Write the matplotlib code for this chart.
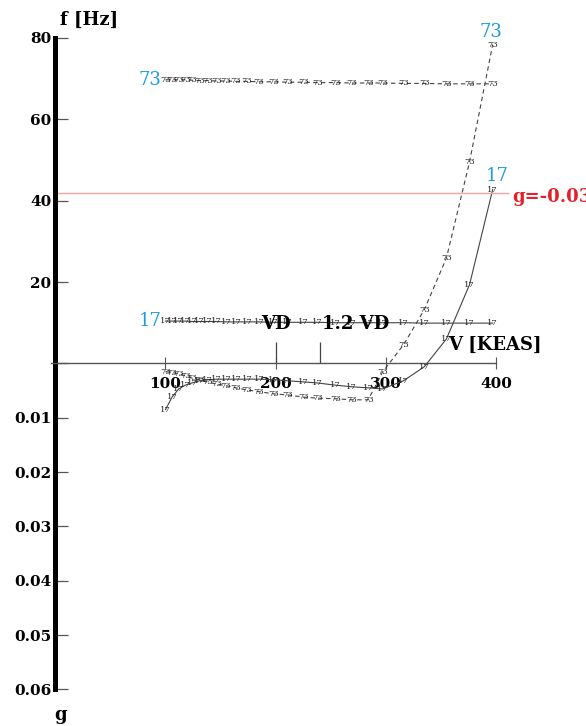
import numpy as np
import matplotlib.pyplot as plt

# Flutter V-g-f diagram, modes 17 and 73
V_KEAS = [100, 106, 112, 118, 124, 131, 138, 146, 155, 164, 174, 185, 198,
          211, 225, 238, 254, 269, 284, 297, 316, 335, 355, 376, 397]

freq_17 = [10.4, 10.4, 10.4, 10.4, 10.3, 10.3, 10.3, 10.3, 10.2, 10.2, 10.2, 10.2, 10.1,
           10.1, 10.1, 10.1, 10.0, 10.0, 10.0, 10.0, 10.0, 9.9, 9.9, 9.9, 9.9]
freq_73 = [69.7, 69.7, 69.7, 69.7, 69.6, 69.5, 69.5, 69.4, 69.4, 69.3, 69.3, 69.2, 69.2,
           69.1, 69.1, 69.0, 69.0, 68.9, 68.9, 68.9, 68.8, 68.8, 68.7, 68.7, 68.7]

g_17 = [0.0085, 0.0062, 0.0047, 0.0040, 0.0036, 0.0032, 0.0030, 0.0029, 0.0029, 0.0029,
        0.0029, 0.0029, 0.0030, 0.0032, 0.0034, 0.0036, 0.0040, 0.0043, 0.0045, 0.0047,
        0.0032, 0.0006, -0.0045, -0.0145, -0.0320]
g_73 = [0.0015, 0.0017, 0.0019, 0.0023, 0.0027, 0.0030, 0.0034, 0.0038, 0.0041, 0.0045,
        0.0049, 0.0052, 0.0056, 0.0058, 0.0062, 0.0064, 0.0065, 0.0067, 0.0067, 0.0016,
        -0.0034, -0.0099, -0.0194, -0.0371, -0.0587]

VD = 200
f_ticks = [20, 40, 60, 80]
g_ticks = [0.01, 0.02, 0.03, 0.04, 0.05, 0.06]
v_ticks = [100, 200, 300, 400]
g_limit = -0.03
g_limit_f = 41.9   # where the g=-0.03 line sits on the f axis in the original

G2F = 1335.0  # f-axis units per unit of damping g (g drawn downward)

SERIF = "DejaVu Serif"
BLUE = "#1b9be0"
GREY = "#444444"


def g_y(g):
    return -np.asarray(g, dtype=float) * G2F


fig = plt.figure(figsize=(5.86, 7.26), dpi=100)
ax = fig.add_axes([0, 0, 1, 1])
ax.set_xlim(-50.2, 481.7)
ax.set_ylim(-89.1, 89.3)

for s in ("top", "right"):
    ax.spines[s].set_visible(False)
ax.spines["left"].set_position(("data", 0))
ax.spines["left"].set_bounds(-max(g_ticks) * G2F, max(f_ticks))
ax.spines["left"].set_linewidth(3.6)
ax.spines["bottom"].set_position(("data", 0))
ax.spines["bottom"].set_bounds(-4, 400)
ax.spines["bottom"].set_linewidth(1.0)
ax.spines["bottom"].set_color("#555555")

yt = f_ticks + [0] + list(g_y(g_ticks))
yl = [str(v) for v in f_ticks] + [""] + [f"{g:.2f}" for g in g_ticks]
ax.set_yticks(yt, yl)
ax.set_xticks(v_ticks, [str(v) for v in v_ticks])
ax.tick_params(axis="y", direction="in", length=9, width=0.9, color="#555555", pad=3)
ax.tick_params(axis="x", direction="inout", length=9, width=0.8, color="#555555", pad=5)
for lab in ax.get_yticklabels() + ax.get_xticklabels():
    lab.set_fontfamily(SERIF)
    lab.set_fontweight("bold")
    lab.set_fontsize(11)

# frequency branches
ax.plot(V_KEAS, freq_17, color=GREY, lw=0.8)
ax.plot(V_KEAS, freq_73, color=GREY, lw=0.8, ls=(0, (4, 3)))
# damping branches
ax.plot(V_KEAS, g_y(g_17), color=GREY, lw=0.8)
ax.plot(V_KEAS, g_y(g_73), color=GREY, lw=0.8, ls=(0, (4, 3)))

small = dict(fontsize=6, family=SERIF, color="#262626", ha="center", va="center")
for v, f1, f7, a, b in zip(V_KEAS, freq_17, freq_73, g_y(g_17), g_y(g_73)):
    ax.text(v, f1, "17", **small)
    ax.text(v, f7, "73", **small)
    ax.text(v, a, "17", **small)
    ax.text(v, b, "73", **small)

big = dict(fontsize=13, family=SERIF, color=BLUE, va="center")
ax.annotate("17", (V_KEAS[0], freq_17[0]), xytext=(-3, 0), textcoords="offset points",
            ha="right", **big)
ax.annotate("73", (V_KEAS[0], freq_73[0]), xytext=(-3, 0), textcoords="offset points",
            ha="right", **big)
ax.annotate("73", (V_KEAS[-1], g_y(g_73)[-1]), xytext=(-1, 9), textcoords="offset points",
            ha="center", **big)
ax.annotate("17", (V_KEAS[-1], g_y(g_17)[-1]), xytext=(3, 10), textcoords="offset points",
            ha="center", **big)

# design dive speed markers
ax.vlines([VD, 1.2 * VD], 0, 5.2, color=GREY, lw=0.9)
lbl = dict(fontsize=13, family=SERIF, fontweight="bold", va="center")
ax.text(VD, 9.7, "VD", ha="center", **lbl)
ax.text(1.2 * VD + 2, 9.7, "1.2 VD", ha="left", **lbl)

# damping limit
ax.hlines(g_limit_f, 0, 412, color="#f5a3a3", lw=1.0)
ax.text(415, g_limit_f - 1, f"g={g_limit}", color="#e4202a", ha="left", **lbl)

ax.text(31, 84.4, "f [Hz]", ha="center", **lbl)
ax.text(399, 4.5, "V [KEAS]", ha="center", **lbl)
ax.text(5, -86.4, "g", ha="center", **lbl)

fig.savefig("out.png", dpi=100)
